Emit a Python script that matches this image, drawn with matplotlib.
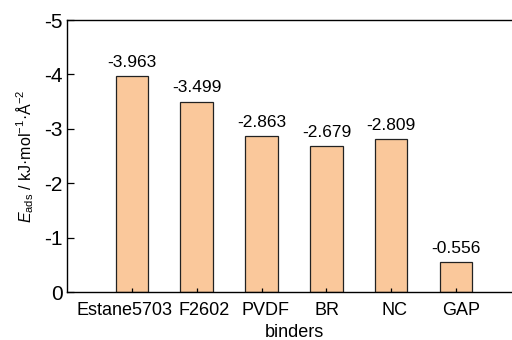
import matplotlib
matplotlib.use("Agg")
import matplotlib.pyplot as plt
from matplotlib.transforms import ScaledTranslation

plt.rcParams["font.family"] = ["Liberation Sans", "DejaVu Sans"]
plt.rcParams["mathtext.fontset"] = "custom"
plt.rcParams["mathtext.rm"] = "Liberation Sans"
plt.rcParams["mathtext.it"] = "Liberation Sans:italic"
plt.rcParams["axes.unicode_minus"] = False

# DATA
binders = ["Estane5703", "F2602", "PVDF", "BR", "NC", "GAP"]
energies = [-3.963, -3.499, -2.863, -2.679, -2.809, -0.556]
yticks = [0, -1, -2, -3, -4, -5]

fig = plt.figure(figsize=(5.12, 3.4), dpi=100)
ax = fig.add_axes([67 / 512, 48 / 340, 454 / 512, 272 / 340])

positions = list(range(len(binders)))
bars = ax.bar(positions, energies, width=0.5, color="#FAC89B", edgecolor="#222222", linewidth=0.9)

for x, v in zip(positions, energies):
	ax.annotate("%.3f" % v, (x, v), xytext=(0, 4.5), textcoords="offset points",
		ha="center", va="bottom", fontsize=12.5)

ax.set_xlim(-1, 6)
ax.set_ylim(0, -5)
ax.set_yticks(yticks)
ax.set_yticklabels([str(t) for t in yticks])
ax.set_xticks(positions)
ax.set_xticklabels(binders)

ax.tick_params(axis="y", direction="in", length=5, width=0.9, labelsize=15, pad=3)
ax.tick_params(axis="x", direction="in", length=3, width=0.9, labelsize=13, pad=7)
for s in ax.spines.values():
	s.set_linewidth(1.0)

# the category labels sit a little off their bars in the original
shifts = [-7.5, 7, 4, 1, 3, 5]
for label, dx in zip(ax.get_xticklabels(), shifts):
	label.set_transform(label.get_transform() + ScaledTranslation(dx / 100, 0, fig.dpi_scale_trans))

ax.set_xlabel("binders", fontsize=13, labelpad=3.5)
ax.set_ylabel(r"$E_{\mathrm{ads}}$ / kJ·mol$^{-1}$·Å$^{-2}$", fontsize=11.5, labelpad=6)

fig.savefig("out.png", dpi=100)
